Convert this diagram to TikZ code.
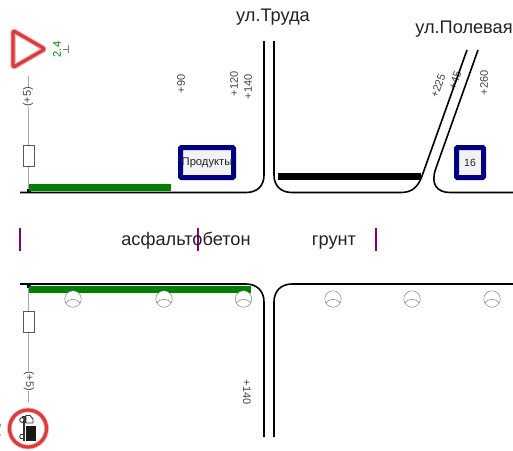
\documentclass[tikz,border=0pt]{standalone}
\usepackage{fontspec}
\setmainfont{Liberation Sans}
\definecolor{txt}{HTML}{222222}
\definecolor{lab}{HTML}{444444}
\definecolor{gr}{HTML}{008000}
\definecolor{navy2}{HTML}{000080}
\definecolor{pur}{HTML}{800080}
\definecolor{redsign}{HTML}{D93A3A}
\tikzset{
  road/.style={draw=black,line width=1.6pt},
  pole/.style={draw=black!35,line width=0.9pt},
  plate/.style={draw=black!65,fill=white,line width=0.6pt},
  title/.style={font=\fontsize{18.2}{18}\selectfont,text=txt,inner sep=0pt,anchor=base},
  chain/.style={font=\fontsize{11}{11}\selectfont,text=lab,inner sep=0pt},
  shop/.style={draw=navy2,line width=5pt,fill=black!5,rounded corners=1pt},
  tick/.style={draw=pur,line width=1.6pt},
  well/.style={draw=black!50,line width=0.5pt,fill=white},
  halo/.style={draw=redsign!35,line width=5.5pt,line join=round},
  ring/.style={draw=redsign,line width=3.2pt,line join=round}
}
\begin{document}
\begin{tikzpicture}[x=1pt,y=-1pt]
\useasboundingbox (0,0) rectangle (513,450);
% poles
\draw[pole] (28.5,76) -- (28.5,192);
\draw[pole] (28.5,284) -- (28.5,402);
\draw[plate] (23.5,145) rectangle (34.5,166);
\draw[plate] (23.5,311) rectangle (34.5,332.5);
\fill[black] (26.5,188.5) rectangle (30.5,192);
\fill[black] (26.5,284) rectangle (30.5,287.5);
% chainage under the roads
\node[chain,rotate=70] (c245) at (455,80) {+45};
% markings
\fill[gr] (29,184) rectangle (171,191);
\fill[gr] (29,286) rectangle (251,293);
\fill[black] (278,173) rectangle (421,180);
% roads
\draw[road] (20,192.5) -- (246,192.5) .. controls (257,192.5) and (264,186) .. (264,175) -- (264,41);
\draw[road] (274,41) -- (274,175) .. controls (274,186) and (281,192.5) .. (292,192.5) -- (401,192.5) .. controls (412,192.5) and (418,187) .. (422,176) -- (467,50);
\draw[road] (478,50) -- (436,168) .. controls (430,184) and (437,192.5) .. (450,192.5) -- (513,192.5);
\draw[road] (20,284) -- (246,284) .. controls (257,284) and (264,291) .. (264,302) -- (264,437);
\draw[road] (274,437) -- (274,302) .. controls (274,291) and (281,284) .. (292,284) -- (513,284);
% wells
\foreach \n/\cx in {a/73,b/164,c/243.5,d/333,e/412,f/492}{
  \node[well,circle,minimum size=16.5pt,inner sep=0pt] (well\n) at (\cx,299) {};
  \draw[draw=black!50,line width=0.5pt] (\cx-7.4,303) .. controls (\cx-3,298) and (\cx+3,298) .. (\cx+7.4,303);
}
% shop boxes
\node[shop,minimum width=53pt,minimum height=30pt,inner sep=0pt,font=\fontsize{11.2}{11}\selectfont,text=txt] (shopa) at (207,162.5) {Продукты};
\node[shop,minimum width=27pt,minimum height=30pt,inner sep=0pt,font=\fontsize{10.5}{10}\selectfont,text=txt] (shopb) at (470,162.5) {16};
% ticks
\draw[tick] (20,228) -- (20,251);
\draw[tick] (198,228) -- (198,251);
\draw[tick] (376,228) -- (376,251);
% titles
\node[title] (trud) at (273,21) {ул.Труда};
\node[title] (pole) at (464,33) {ул.Полевая};
\node[title] (asph) at (186,245.5) {асфальтобетон};
\node[title] (grnt) at (334,245.5) {грунт};
% chainage
\node[chain,rotate=90] (c90) at (181,84) {+90};
\node[chain,rotate=90] (c120) at (234,84) {+120};
\node[chain,rotate=90] (c140) at (248,87) {+140};
\node[chain,rotate=70] (c225) at (438,86) {+225};
\node[chain,rotate=90] (c260) at (484,83) {+260};
\node[chain,rotate=90,fill=white,inner ysep=1pt] (c5a) at (28,97) {(+5)};
\node[chain,rotate=-90,fill=white,inner ysep=1pt] (c5b) at (29,381) {(+5)};
\node[chain,rotate=-90] (c140b) at (247,392) {+140};
% yield sign
\draw[halo,rounded corners=2pt] (13,30.5) -- (45,49) -- (13,67.5) -- cycle;
\draw[ring,rounded corners=2pt] (13,30.5) -- (45,49) -- (13,67.5) -- cycle;
\node[chain,rotate=90,text=gr] (h) at (57,49.5) {2.4};
\draw[black!50,line width=0.5pt] (68,45) -- (68,53) (63,49) -- (68,49);
% no-truck sign
\draw[redsign!35,line width=5pt] (28,428.5) circle (18.5);
\draw[redsign,line width=3.2pt] (28,428.5) circle (18.5);
\fill[black!90] (26,426) rectangle (36,441);
\draw[black!80,line width=0.9pt,fill=white] (26,423) -- (26,415.5) -- (30,415.5) -- (33,419) -- (33,423) -- cycle;
\fill[black!80] (22,415.5) rectangle (26,423);
\draw[black!80,line width=0.9pt,fill=white] (22,420) circle (2.3);
\draw[black!80,line width=0.9pt,fill=white] (22,436.5) circle (2.3);
\draw[black!80,line width=1.2pt] (24,420) -- (24,441);
\node[chain,rotate=-90,text=gr] (h2) at (-3,430) {2.4};
\end{tikzpicture}
\end{document}
